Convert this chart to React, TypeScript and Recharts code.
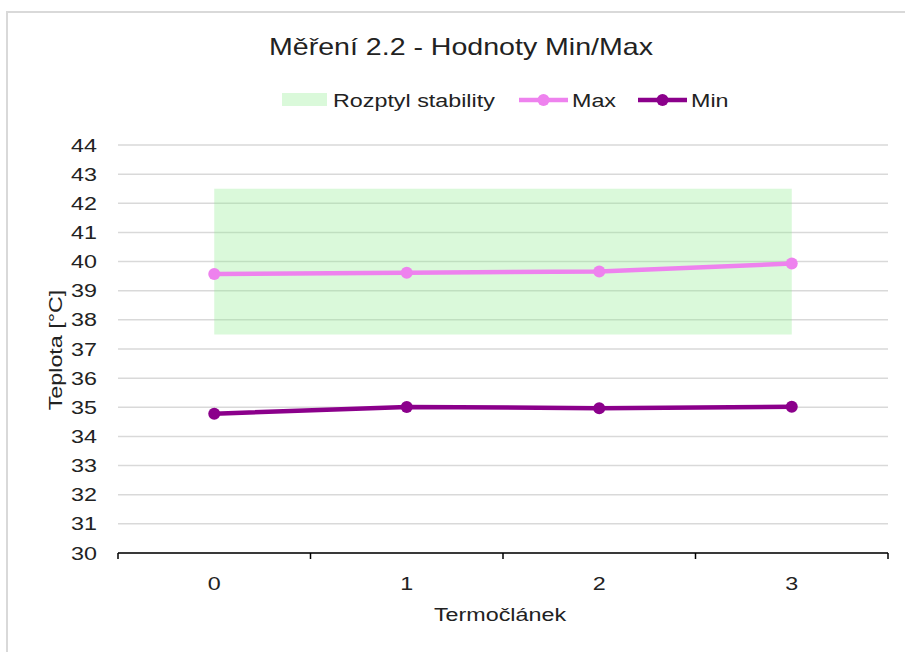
import React from 'react';
import { ComposedChart, Line, Area, XAxis, YAxis, CartesianGrid, Legend } from 'recharts';

const categories = ['0', '1', '2', '3'];
const maxValues = [39.57, 39.62, 39.66, 39.93];
const minValues = [34.78, 35.01, 34.97, 35.02];
const stabLow = [37.5, 37.5, 37.5, 37.5];
const stabHigh = [42.5, 42.5, 42.5, 42.5];
const yTicks = [30, 31, 32, 33, 34, 35, 36, 37, 38, 39, 40, 41, 42, 43, 44];
const legendOrder = ['Rozptyl stability', 'Max', 'Min'];

const data = categories.map((name, i) => ({
    name,
    max: maxValues[i],
    min: minValues[i],
    stab: [stabLow[i], stabHigh[i]],
}));

const W = 905;
const H = 652;
const LEFT = 118;
const RIGHT = 17;
const PLOT_W = W - LEFT - RIGHT;
const FONT = '"Liberation Sans", Arial, sans-serif';
const TEXT = '#222';
// the source renders its text noticeably wider than Arial
const STRETCH = 1.26;

const MAX_COLOR = '#EE82EE';
const MIN_COLOR = '#8B008B';
const GREEN = '#90EE90';

const SText = ({ x, y, children, anchor = 'start', size = 18.5, scale = STRETCH, rotate = 0 }: any) => (
    <text
        x={0}
        y={0}
        transform={`translate(${x} ${y})${rotate ? ` rotate(${rotate})` : ''} scale(${scale} 1)`}
        textAnchor={anchor}
        fontSize={size}
        fontFamily={FONT}
        fill={TEXT}
    >
        {children}
    </text>
);

const YTick = ({ x, y, payload }: any) => (
    <SText x={x} y={y + 6.5} anchor="end">{payload.value}</SText>
);

const XTick = ({ x, y, payload, index }: any) => {
    const bw = PLOT_W / categories.length;
    return (
        <g>
            <line x1={x - bw / 2} x2={x - bw / 2} y1={y} y2={y + 6} stroke="#000" strokeWidth={1.5} />
            {index === categories.length - 1 && (
                <line x1={x + bw / 2} x2={x + bw / 2} y1={y} y2={y + 6} stroke="#000" strokeWidth={1.5} />
            )}
            <SText x={x} y={y + 37} anchor="middle">{payload.value}</SText>
        </g>
    );
};

const YLabel = ({ viewBox }: any) => (
    <SText x={viewBox.x + 61.5} y={viewBox.y + viewBox.height / 2 + 1} anchor="middle" rotate={-90}>
        Teplota [°C]
    </SText>
);

const XLabel = ({ viewBox }: any) => (
    <SText x={viewBox.x + viewBox.width / 2 - 3} y={viewBox.y + 68} anchor="middle">
        Termočlánek
    </SText>
);

// legend item placement (x of swatch start, x of text start)
const legendSlots = [
    { sx: 282, tx: 333 },
    { sx: 519, tx: 572 },
    { sx: 638, tx: 691 },
];

const LegendContent = ({ payload }: any) => {
    const items = [...(payload || [])].sort(
        (a: any, b: any) => legendOrder.indexOf(a.value) - legendOrder.indexOf(b.value)
    );
    return (
        <svg width={W - RIGHT} height={65} style={{ display: 'block' }}>
            {items.map((p: any, i: number) => {
                const slot = legendSlots[i];
                if (!slot) return null;
                const isArea = p.value === 'Rozptyl stability';
                const color = p.value === 'Max' ? MAX_COLOR : MIN_COLOR;
                return (
                    <g key={p.value}>
                        {isArea ? (
                            <rect x={slot.sx} y={13} width={45} height={13} fill={GREEN} fillOpacity={0.33} />
                        ) : (
                            <g>
                                <line x1={slot.sx} x2={slot.sx + 49} y1={20} y2={20} stroke={color} strokeWidth={4.5} />
                                <circle cx={slot.sx + 24.5} cy={20} r={6} fill={color} />
                            </g>
                        )}
                        <SText x={slot.tx} y={26.5}>{p.value}</SText>
                    </g>
                );
            })}
        </svg>
    );
};

export default function App() {
    return (
        <div style={{ position: 'absolute', left: 0, top: 0, width: W, height: H, overflow: 'hidden', background: '#fff' }}>
            <div
                style={{
                    position: 'absolute',
                    left: 6,
                    top: 11,
                    width: 1200,
                    height: 900,
                    border: '2px solid #d9d9d9',
                }}
            />
            <svg width={W} height={80} style={{ position: 'absolute', left: 0, top: 0 }}>
                <SText x={461} y={55} anchor="middle" size={24} scale={1.19}>
                    Měření 2.2 - Hodnoty Min/Max
                </SText>
            </svg>
            <div style={{ position: 'absolute', left: 0, top: 0 }}>
                <ComposedChart width={W} height={H} data={data} margin={{ top: 80, right: RIGHT, bottom: 0, left: 0 }}>
                    <CartesianGrid vertical={false} stroke="#d9d9d9" strokeWidth={1.5} />
                    <XAxis
                        dataKey="name"
                        scale="band"
                        height={99}
                        interval={0}
                        tickLine={false}
                        tickSize={0}
                        tickMargin={0}
                        axisLine={{ stroke: '#000', strokeWidth: 1.5 }}
                        tick={<XTick />}
                        label={(props: any) => <XLabel {...props} />}
                    />
                    <YAxis
                        width={LEFT}
                        domain={[30, 44]}
                        ticks={yTicks}
                        interval={0}
                        axisLine={false}
                        tickLine={false}
                        tickSize={0}
                        tickMargin={21}
                        tick={<YTick />}
                        label={(props: any) => <YLabel {...props} />}
                    />
                    <Legend verticalAlign="top" align="left" content={<LegendContent />} />
                    <Area
                        type="linear"
                        dataKey="stab"
                        name="Rozptyl stability"
                        stroke="none"
                        fill={GREEN}
                        fillOpacity={0.33}
                        dot={false}
                        activeDot={false}
                        isAnimationActive={false}
                    />
                    <Line
                        type="linear"
                        dataKey="max"
                        name="Max"
                        stroke={MAX_COLOR}
                        strokeWidth={4.5}
                        dot={{ r: 6, fill: MAX_COLOR, stroke: MAX_COLOR, strokeWidth: 0 }}
                        isAnimationActive={false}
                    />
                    <Line
                        type="linear"
                        dataKey="min"
                        name="Min"
                        stroke={MIN_COLOR}
                        strokeWidth={4.5}
                        dot={{ r: 6, fill: MIN_COLOR, stroke: MIN_COLOR, strokeWidth: 0 }}
                        isAnimationActive={false}
                    />
                </ComposedChart>
            </div>
        </div>
    );
}
